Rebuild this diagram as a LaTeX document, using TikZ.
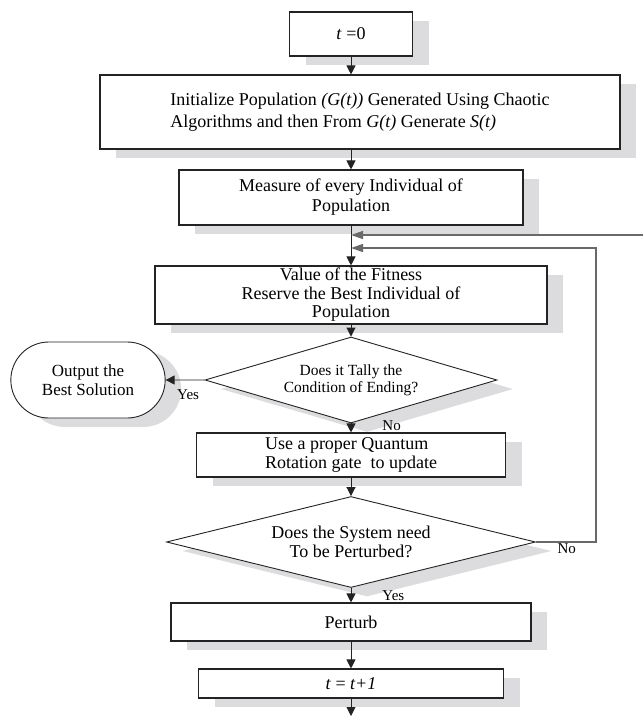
\documentclass[tikz,border=0pt]{standalone}
\usepackage{fontspec}
\setmainfont{Liberation Serif}
\usetikzlibrary{arrows.meta,positioning,shapes.geometric,shapes.misc,shadows}
\definecolor{fcshadow}{RGB}{220,220,222}
\definecolor{fcline}{RGB}{35,35,35}
\definecolor{fcloop}{RGB}{105,105,105}
\begin{document}
\begin{tikzpicture}[x=1pt,y=-1pt,
  every node/.style={font=\fontsize{18}{22}\selectfont},
  fcshade/.style={drop shadow={shadow xshift=16pt,shadow yshift=-9pt,fill=fcshadow,opacity=1}},
  procbox/.style={draw=fcline,line width=1.1pt,fill=white,fcshade,align=center,inner sep=2pt},
  decide/.style={diamond,draw=fcline,line width=0.9pt,fill=white,fcshade,align=center,inner sep=0pt},
  flow/.style={-{Triangle[length=9pt,width=9pt]},fcline,line width=0.9pt},
  loopflow/.style={-{Triangle[length=12pt,width=8pt]},fcloop,line width=1.4pt},
  tag/.style={font=\fontsize{15}{17}\selectfont,text=black,inner sep=1pt}]
  \useasboundingbox (0,0) rectangle (643,716);
  \node[procbox,minimum width=123pt,minimum height=44pt] (t0) at (351,34) {\textit{t} =0};
  \node[procbox,align=left,minimum width=520pt,minimum height=74pt] (init) at (360,112) {Initialize Population \textit{(G(t))} Generated Using Chaotic\\ Algorithms and then From \textit{G(t)} Generate \textit{S(t)}};
  \node[procbox,font=\fontsize{18}{20}\selectfont,minimum width=344pt,minimum height=55pt] (measure) at (351,197.5) {Measure of every Individual of\\Population};
  \node[procbox,font=\fontsize{18}{18.5}\selectfont,minimum width=392pt,minimum height=58pt] (value) at (351,295) {Value of the Fitness\\ Reserve the Best Individual of\\Population};
  \node[decide,aspect=3.4,font=\fontsize{15.5}{17}\selectfont,minimum width=292pt,minimum height=86pt] (tally) at (351,380) {Does it Tally the\\Condition of Ending?};
  \node[rounded rectangle,draw=fcline,line width=0.9pt,fill=white,fcshade,align=center,font=\fontsize{17}{18.5}\selectfont,minimum width=161pt,minimum height=76pt] (output) at (88,380) {Output the\\Best Solution};
  \node[procbox,align=left,font=\fontsize{18}{19}\selectfont,minimum width=309pt,minimum height=44pt] (update) at (351,455) {Use a proper Quantum\\Rotation gate\ \ to update};
  \node[decide,aspect=4.05,font=\fontsize{18}{19}\selectfont,minimum width=369pt,minimum height=91pt] (perturbq) at (351,542) {Does the System need\\ To be Perturbed?};
  \node[procbox,minimum width=360pt,minimum height=38pt] (perturb) at (351,622) {Perturb};
  \node[procbox,minimum width=305pt,minimum height=29pt] (tinc) at (351,683.5) {\textit{t} = \textit{t+1}};
  \coordinate (entry) at (643,235);
  \coordinate (loop) at (596,248);
  \coordinate (exit) at (351,716);
  \draw[flow] (t0) -- (t0 |- init.north);
  \draw[flow] (measure.north |- init.south) -- (measure);
  \draw[flow] (measure) -- (value);
  \draw[loopflow] (entry) -- (entry -| measure.south);
  \draw[loopflow] (perturbq.east) node[tag,anchor=north west,xshift=20pt]{No} -| (loop) -- (loop -| measure.south);
  \draw[flow] (value) -- (tally);
  \draw[flow] (tally.west) -- (output) node[tag,midway,below=8pt,xshift=3pt]{Yes};
  \draw[flow] (tally) -- (update) node[tag,pos=0.2,right=30pt]{No};
  \draw[flow] (update) -- (perturbq);
  \draw[flow] (perturbq) -- (perturb) node[tag,midway,right=30pt]{Yes};
  \draw[flow] (perturb) -- (tinc);
  \draw[flow] (tinc) -- (exit);
\end{tikzpicture}
\end{document}
